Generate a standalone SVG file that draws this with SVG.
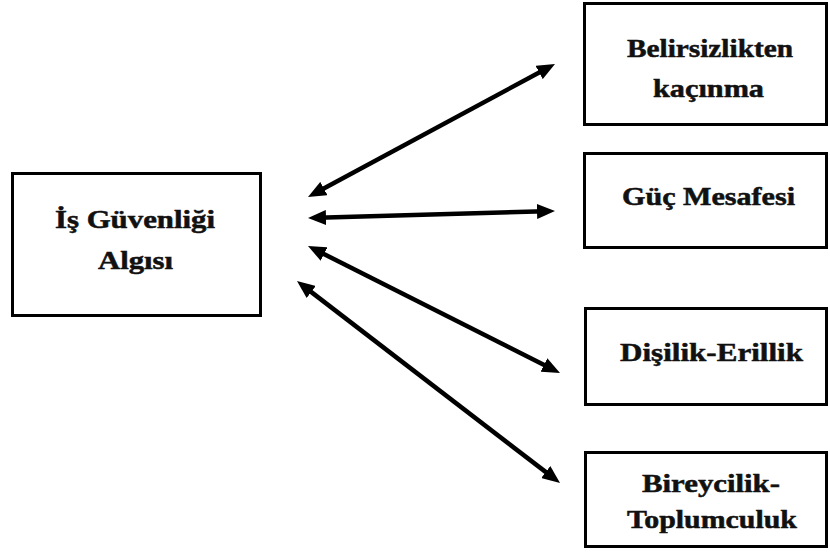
<svg xmlns="http://www.w3.org/2000/svg" width="830" height="552" viewBox="0 0 830 552">
  <style>
    .box { fill: #ffffff; stroke: #000000; stroke-width: 3; }
    .lbl { font-family: "Liberation Serif", "Times New Roman", serif; font-weight: bold; font-size: 25px; fill: #111111; stroke: #111111; stroke-width: 0.5; }
    .link { stroke: #000000; stroke-width: 4.5; fill: none; marker-start: url(#head); marker-end: url(#head); }
  </style>
  <defs>
    <marker id="head" markerUnits="userSpaceOnUse" markerWidth="18" markerHeight="15" refX="8" refY="7.5" orient="auto-start-reverse">
      <path d="M0,0 L18,7.5 L0,15 z" fill="#000000"/>
    </marker>
  </defs>
  <rect width="830" height="552" fill="#ffffff"/>

  <g id="is-guvenligi-algisi">
    <rect class="box" x="12.5" y="173.5" width="248" height="142"/>
    <text class="lbl" x="55" y="228" textLength="160" lengthAdjust="spacingAndGlyphs">İş Güvenliği</text>
    <text class="lbl" x="98" y="269" textLength="75" lengthAdjust="spacingAndGlyphs">Algısı</text>
  </g>

  <g id="belirsizlikten-kacinma">
    <rect class="box" x="584.5" y="3.5" width="242" height="121"/>
    <text class="lbl" x="627" y="57" textLength="166" lengthAdjust="spacingAndGlyphs">Belirsizlikten</text>
    <text class="lbl" x="653" y="97" textLength="111" lengthAdjust="spacingAndGlyphs">kaçınma</text>
  </g>

  <g id="guc-mesafesi">
    <rect class="box" x="584.5" y="153.5" width="242" height="94"/>
    <text class="lbl" x="622" y="205" textLength="173" lengthAdjust="spacingAndGlyphs">Güç Mesafesi</text>
  </g>

  <g id="disilik-erillik">
    <rect class="box" x="585.5" y="308.5" width="241" height="96"/>
    <text class="lbl" x="620" y="361" textLength="183" lengthAdjust="spacingAndGlyphs">Dişilik-Erillik</text>
  </g>

  <g id="bireycilik-toplumculuk">
    <rect class="box" x="585.5" y="452.5" width="241" height="94"/>
    <text class="lbl" x="642" y="492" textLength="138" lengthAdjust="spacingAndGlyphs">Bireycilik-</text>
    <text class="lbl" x="627" y="528" textLength="170" lengthAdjust="spacingAndGlyphs">Toplumculuk</text>
  </g>

  <g id="connectors">
    <line class="link" x1="316.8" y1="192.3" x2="546.2" y2="68.7"/>
    <line class="link" x1="318" y1="217.7" x2="545" y2="211.3"/>
    <line class="link" x1="316.9" y1="250.5" x2="551.1" y2="368.5"/>
    <line class="link" x1="304.9" y1="287.1" x2="552.1" y2="476.9"/>
  </g>
</svg>
